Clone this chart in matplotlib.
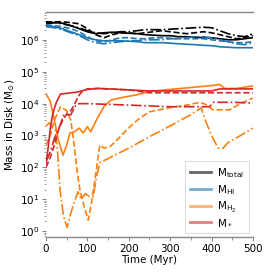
import numpy as np
import matplotlib
matplotlib.use('Agg')
import matplotlib.pyplot as plt
from matplotlib.lines import Line2D


# gas masses, sampled every 20 Myr
t_gas = [0, 20, 40, 60, 80, 100, 120, 140, 160, 180, 200, 220, 240,
         260, 280, 300, 320, 340, 360, 380, 400, 420, 440, 460, 480, 500]

# total mass (units of 1e6 Msun), three runs: solid, dashed, dash-dot
tot_a = [3.5, 3.5, 3.35, 2.8, 2.25, 1.8, 1.57, 1.68, 1.75, 1.68, 1.62, 1.57, 1.46,
         1.41, 1.36, 1.36, 1.26, 1.26, 1.22, 1.17, 1.17, 1.09, 1.01, 1.01, 1.09, 1.17]
tot_b = [3.7, 3.7, 3.7, 3.5, 3.2, 2.25, 1.46, 1.17, 1.46, 1.68, 1.68, 1.57, 1.68,
         1.81, 1.95, 1.81, 1.68, 1.57, 1.68, 1.81, 1.68, 1.46, 1.26, 1.09, 1.17, 1.36]
tot_c = [3.2, 3.5, 3.2, 2.8, 2.4, 1.95, 1.68, 1.57, 1.68, 1.81, 1.81, 1.95, 2.1,
         2.1, 2.1, 2.17, 2.25, 2.33, 2.42, 2.5, 2.42, 1.95, 1.57, 1.36, 1.26, 1.57]

# HI mass (units of 1e6 Msun)
hi_a = [2.8, 2.6, 2.25, 1.81, 1.46, 1.17, 1.01, 0.94, 0.94, 0.94, 0.91, 0.88, 0.82,
        0.82, 0.82, 0.79, 0.76, 0.73, 0.71, 0.68, 0.66, 0.61, 0.59, 0.57, 0.57, 0.57]
hi_b = [3.0, 2.8, 2.6, 2.25, 1.81, 1.26, 0.94, 0.88, 1.01, 1.17, 1.17, 1.09, 1.09,
        1.17, 1.17, 1.13, 1.09, 1.09, 1.09, 1.09, 1.01, 0.94, 0.88, 0.82, 0.82, 0.88]
hi_c = [2.6, 2.42, 2.09, 1.68, 1.36, 1.01, 0.82, 0.76, 0.82, 0.88, 0.94, 0.94, 1.01,
        1.01, 1.01, 1.09, 1.09, 1.17, 1.26, 1.26, 1.17, 1.01, 0.88, 0.76, 0.71, 0.82]

# H2 mass
t_h2_a = [0, 10, 20, 30, 41, 50, 58, 68, 80, 90, 100, 108, 124, 140, 157, 188,
          220, 249, 300, 350, 400, 420, 432, 460, 500]
h2_a = [2.0e4, 1.2e4, 3.1e3, 700, 240, 500, 1200, 1300, 1700, 1200, 1900, 1300,
        3500, 8000, 1.3e4, 1.6e4, 1.9e4, 2.4e4, 2.8e4, 3.2e4, 3.7e4, 4.0e4, 3.0e4,
        3.0e4, 3.6e4]
t_h2_b = [0, 10, 20, 35, 50, 60, 68, 75, 82, 92, 102, 110, 120, 130, 140, 155,
          175, 195, 220, 249, 300, 340, 372, 390, 403, 443, 470, 500]
h2_b = [500, 1000, 3000, 8000, 6000, 3000, 500, 80, 19, 6, 2.2, 8, 60, 500, 400,
        450, 800, 1500, 3000, 5500, 7500, 9000, 1.1e4, 9000, 6400, 6400, 1e4, 1.5e4]
t_h2_c = [0, 8, 15, 22, 28, 34, 42, 51, 58, 65, 77, 85, 95, 105, 114, 122, 130,
          157, 200, 249, 300, 350, 375, 385, 400, 416, 428, 440, 470, 500]
h2_c = [2000, 2500, 1800, 1500, 300, 19, 3, 1.3, 3, 6, 17, 10, 15, 12, 12, 50, 140,
        210, 400, 900, 2000, 4500, 7400, 3000, 1000, 400, 400, 600, 1000, 1700]

# stellar mass
t_st_a = [0, 5, 10, 15, 20, 25, 35, 50, 75, 100, 125, 150, 200, 250, 300, 350,
          400, 420, 450, 500]
st_a = [130, 400, 1500, 4000, 7000, 1.1e4, 2.0e4, 2.1e4, 2.3e4, 2.8e4, 3.0e4,
        2.9e4, 2.7e4, 2.5e4, 2.5e4, 2.5e4, 2.5e4, 2.9e4, 2.9e4, 2.9e4]
t_st_b = [0, 10, 20, 30, 40, 51, 60, 68, 76, 84, 99, 125, 150, 200, 250, 300,
          350, 400, 450, 500]
st_b = [100, 200, 500, 1500, 3000, 5000, 6000, 9000, 1.5e4, 2.2e4, 2.9e4, 3.0e4,
        2.9e4, 2.7e4, 2.2e4, 2.2e4, 2.2e4, 2.2e4, 2.2e4, 2.2e4]
t_st_c = [0, 10, 20, 30, 43, 60, 72, 80, 100, 150, 200, 250, 300, 350, 395, 405,
          450, 500]
st_c = [150, 300, 800, 1500, 4500, 4500, 9000, 1.0e4, 1.0e4, 9.5e3, 9e3, 8.5e3,
        8e3, 8e3, 8e3, 1.1e4, 1.1e4, 1.05e4]

labels = [r'M$_{\rm total}$', r'M$_{\rm HI}$', r'M$_{\rm H_2}$', r'M$_*$']
colors = ['k', 'tab:blue', 'tab:orange', 'tab:red']

plt.rcParams['font.size'] = 7.5
fig = plt.figure(figsize=(2.74, 2.74), dpi=100)
ax = fig.add_axes([0.168, 0.135, 0.755, 0.821])

lw = 1.2
styles = ['-', '--', '-.']
for data, st in zip([tot_a, tot_b, tot_c], styles):
    ax.plot(t_gas, np.array(data) * 1e6, color=colors[0], ls=st, lw=lw)
for data, st in zip([hi_a, hi_b, hi_c], styles):
    ax.plot(t_gas, np.array(data) * 1e6, color=colors[1], ls=st, lw=lw)
for t, data, st in zip([t_h2_a, t_h2_b, t_h2_c], [h2_a, h2_b, h2_c], styles):
    ax.plot(t, data, color=colors[2], ls=st, lw=lw)
for t, data, st in zip([t_st_a, t_st_b, t_st_c], [st_a, st_b, st_c], styles):
    ax.plot(t, data, color=colors[3], ls=st, lw=lw)

ax.set_yscale('log')
ax.set_xlim(0, 500)
ax.set_ylim(0.65, 7.5e6)
ax.set_xticks([0, 100, 200, 300, 400, 500])
ax.set_xticks(np.arange(50, 500, 100), minor=True)
ax.set_xlabel('Time (Myr)', labelpad=1)
ax.set_ylabel(r'Mass in Disk (M$_{\odot}$)', labelpad=2)

ax.spines['left'].set_visible(False)
ax.spines['right'].set_visible(False)
for s in ['top', 'bottom']:
    ax.spines[s].set_color('#888888')
    ax.spines[s].set_linewidth(1.0)
ax.tick_params(which='both', color='#888888', pad=2)
ax.tick_params(which='major', length=3)
ax.tick_params(which='minor', length=1.8)

handles = [Line2D([], [], color=c, lw=2, alpha=0.6) for c in colors]
leg = ax.legend(handles, labels, loc='lower right', fontsize=7.5,
                handlelength=2.0, handletextpad=0.6, labelspacing=0.3,
                borderpad=0.45, borderaxespad=0.4,
                fancybox=False, framealpha=1)
leg.get_frame().set_edgecolor('#dddddd')
leg.get_frame().set_linewidth(0.8)

plt.savefig('out.png', dpi=100)
